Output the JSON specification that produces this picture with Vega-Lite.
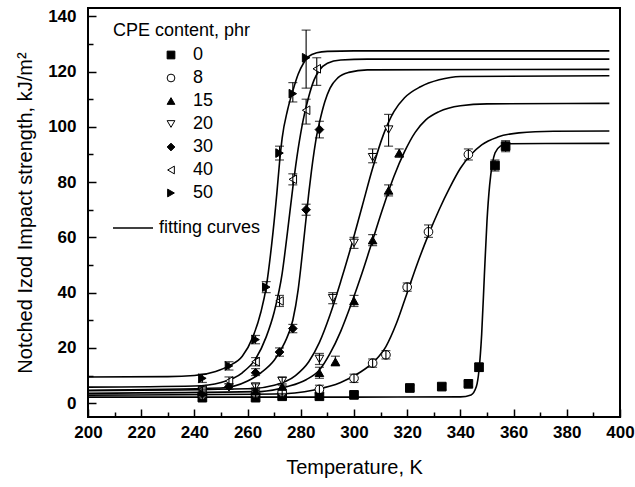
{
  "$schema": "https://vega.github.io/schema/vega-lite/v6.json",
  "width": 532,
  "height": 409,
  "autosize": "none",
  "padding": {"left": 88, "top": 8, "right": 15, "bottom": 70},
  "background": "white",
  "config": {
    "view": {"stroke": "black", "strokeWidth": 2},
    "axis": {
      "domain": false,
      "grid": false,
      "labelFont": "Liberation Sans",
      "labelFontWeight": "bold",
      "labelFontSize": 17,
      "labelColor": "black",
      "tickColor": "black",
      "tickWidth": 1.5,
      "titleFont": "Liberation Sans",
      "titleFontWeight": "normal",
      "titleFontSize": 20,
      "titleColor": "black"
    },
    "legend": {
      "labelFont": "Liberation Sans",
      "titleFont": "Liberation Sans",
      "labelColor": "black",
      "titleColor": "black"
    }
  },
  "datasets": {
    "points": [
      {"cpe": "0", "T": 243, "v": 2, "lo": 1, "hi": 3},
      {"cpe": "0", "T": 263, "v": 2, "lo": 1, "hi": 3},
      {"cpe": "0", "T": 273, "v": 2.5, "lo": 1.5, "hi": 3.5},
      {"cpe": "0", "T": 287, "v": 2.5, "lo": 1.5, "hi": 3.5},
      {"cpe": "0", "T": 300, "v": 3, "lo": 2, "hi": 4},
      {"cpe": "0", "T": 321, "v": 5.5, "lo": 4.5, "hi": 6.5},
      {"cpe": "0", "T": 333, "v": 6, "lo": 5, "hi": 7},
      {"cpe": "0", "T": 343, "v": 7, "lo": 6, "hi": 8},
      {"cpe": "0", "T": 347, "v": 13, "lo": 11.5, "hi": 14.5},
      {"cpe": "0", "T": 353, "v": 86, "lo": 84, "hi": 88},
      {"cpe": "0", "T": 357, "v": 93, "lo": 91, "hi": 95},
      {"cpe": "8", "T": 243, "v": 3, "lo": 2, "hi": 4},
      {"cpe": "8", "T": 263, "v": 3.5, "lo": 2.5, "hi": 4.5},
      {"cpe": "8", "T": 273, "v": 4, "lo": 3, "hi": 5},
      {"cpe": "8", "T": 287, "v": 5, "lo": 3.5, "hi": 6.5},
      {"cpe": "8", "T": 300, "v": 9, "lo": 7.5, "hi": 10.5},
      {"cpe": "8", "T": 307, "v": 14.5, "lo": 13, "hi": 16},
      {"cpe": "8", "T": 312, "v": 17.5, "lo": 16, "hi": 19},
      {"cpe": "8", "T": 320, "v": 42, "lo": 40.5, "hi": 43.5},
      {"cpe": "8", "T": 328, "v": 62, "lo": 60, "hi": 64.5},
      {"cpe": "8", "T": 343, "v": 90, "lo": 88, "hi": 92},
      {"cpe": "15", "T": 243, "v": 4, "lo": 3, "hi": 5},
      {"cpe": "15", "T": 263, "v": 4.5, "lo": 3.5, "hi": 5.5},
      {"cpe": "15", "T": 273, "v": 6, "lo": 5, "hi": 7},
      {"cpe": "15", "T": 287, "v": 11, "lo": 9, "hi": 13},
      {"cpe": "15", "T": 293, "v": 15, "lo": 13.5, "hi": 17},
      {"cpe": "15", "T": 300, "v": 37, "lo": 35, "hi": 39},
      {"cpe": "15", "T": 307, "v": 59, "lo": 57, "hi": 61},
      {"cpe": "15", "T": 313, "v": 77, "lo": 75, "hi": 79},
      {"cpe": "15", "T": 317, "v": 90.5, "lo": 89, "hi": 92},
      {"cpe": "20", "T": 243, "v": 4.5, "lo": 3.5, "hi": 5.5},
      {"cpe": "20", "T": 263, "v": 6, "lo": 5, "hi": 7},
      {"cpe": "20", "T": 273, "v": 8, "lo": 6.5, "hi": 9.5},
      {"cpe": "20", "T": 287, "v": 16, "lo": 14, "hi": 18},
      {"cpe": "20", "T": 292, "v": 38, "lo": 36, "hi": 40},
      {"cpe": "20", "T": 300, "v": 58, "lo": 56, "hi": 60},
      {"cpe": "20", "T": 307, "v": 89, "lo": 87, "hi": 92},
      {"cpe": "20", "T": 313, "v": 99, "lo": 93, "hi": 104.5},
      {"cpe": "30", "T": 243, "v": 3.5, "lo": 2.5, "hi": 4.5},
      {"cpe": "30", "T": 253, "v": 6, "lo": 5, "hi": 7},
      {"cpe": "30", "T": 263, "v": 11, "lo": 10, "hi": 12.5},
      {"cpe": "30", "T": 272, "v": 18.5, "lo": 17, "hi": 20},
      {"cpe": "30", "T": 277, "v": 27, "lo": 25.5, "hi": 28.5},
      {"cpe": "30", "T": 282, "v": 70, "lo": 68, "hi": 72},
      {"cpe": "30", "T": 287, "v": 99, "lo": 96, "hi": 102},
      {"cpe": "40", "T": 243, "v": 5, "lo": 4, "hi": 6},
      {"cpe": "40", "T": 253, "v": 8, "lo": 7, "hi": 9.5},
      {"cpe": "40", "T": 263, "v": 15, "lo": 13.5, "hi": 16.5},
      {"cpe": "40", "T": 272, "v": 37, "lo": 35, "hi": 39},
      {"cpe": "40", "T": 277, "v": 81, "lo": 79, "hi": 83},
      {"cpe": "40", "T": 282, "v": 106, "lo": 101, "hi": 110},
      {"cpe": "40", "T": 286, "v": 121, "lo": 115, "hi": 125},
      {"cpe": "50", "T": 243, "v": 9, "lo": 7.5, "hi": 10.5},
      {"cpe": "50", "T": 253, "v": 13.5, "lo": 12, "hi": 15},
      {"cpe": "50", "T": 263, "v": 23, "lo": 21.5, "hi": 24.5},
      {"cpe": "50", "T": 267, "v": 42, "lo": 40, "hi": 44},
      {"cpe": "50", "T": 272, "v": 90.5, "lo": 88, "hi": 93},
      {"cpe": "50", "T": 277, "v": 112, "lo": 109, "hi": 116},
      {"cpe": "50", "T": 282, "v": 125, "lo": 114, "hi": 135}
    ],
    "curves": [
      {"cpe": "0", "T": 200, "v": 2.2}, {"cpe": "0", "T": 300, "v": 2.2}, {"cpe": "0", "T": 340, "v": 2.3},
      {"cpe": "0", "T": 344, "v": 3}, {"cpe": "0", "T": 346, "v": 6}, {"cpe": "0", "T": 347, "v": 12},
      {"cpe": "0", "T": 348, "v": 25}, {"cpe": "0", "T": 349, "v": 46}, {"cpe": "0", "T": 350, "v": 66},
      {"cpe": "0", "T": 351, "v": 79}, {"cpe": "0", "T": 352, "v": 86.5}, {"cpe": "0", "T": 353, "v": 90.5},
      {"cpe": "0", "T": 355, "v": 93}, {"cpe": "0", "T": 358, "v": 93.9}, {"cpe": "0", "T": 396, "v": 94},

      {"cpe": "8", "T": 200, "v": 2.9}, {"cpe": "8", "T": 270, "v": 3.3}, {"cpe": "8", "T": 285, "v": 4.8},
      {"cpe": "8", "T": 295, "v": 7.5}, {"cpe": "8", "T": 302, "v": 11}, {"cpe": "8", "T": 308, "v": 15.5},
      {"cpe": "8", "T": 312, "v": 20.5}, {"cpe": "8", "T": 316, "v": 29}, {"cpe": "8", "T": 320, "v": 40},
      {"cpe": "8", "T": 324, "v": 51}, {"cpe": "8", "T": 328, "v": 61}, {"cpe": "8", "T": 332, "v": 70},
      {"cpe": "8", "T": 336, "v": 78}, {"cpe": "8", "T": 340, "v": 85}, {"cpe": "8", "T": 344, "v": 90},
      {"cpe": "8", "T": 348, "v": 93.5}, {"cpe": "8", "T": 354, "v": 96.3}, {"cpe": "8", "T": 362, "v": 97.8},
      {"cpe": "8", "T": 375, "v": 98.4}, {"cpe": "8", "T": 396, "v": 98.5},

      {"cpe": "15", "T": 200, "v": 3.6}, {"cpe": "15", "T": 265, "v": 4.2}, {"cpe": "15", "T": 275, "v": 6},
      {"cpe": "15", "T": 282, "v": 8.5}, {"cpe": "15", "T": 287, "v": 12}, {"cpe": "15", "T": 291, "v": 18},
      {"cpe": "15", "T": 295, "v": 26}, {"cpe": "15", "T": 299, "v": 36}, {"cpe": "15", "T": 303, "v": 47},
      {"cpe": "15", "T": 307, "v": 59}, {"cpe": "15", "T": 311, "v": 71}, {"cpe": "15", "T": 315, "v": 82},
      {"cpe": "15", "T": 319, "v": 91}, {"cpe": "15", "T": 323, "v": 98}, {"cpe": "15", "T": 327, "v": 102.5},
      {"cpe": "15", "T": 332, "v": 105.5}, {"cpe": "15", "T": 340, "v": 107.6}, {"cpe": "15", "T": 350, "v": 108.3},
      {"cpe": "15", "T": 396, "v": 108.5},

      {"cpe": "20", "T": 200, "v": 4.5}, {"cpe": "20", "T": 260, "v": 5.2}, {"cpe": "20", "T": 270, "v": 6.5},
      {"cpe": "20", "T": 278, "v": 10}, {"cpe": "20", "T": 283, "v": 15}, {"cpe": "20", "T": 287, "v": 22},
      {"cpe": "20", "T": 291, "v": 32}, {"cpe": "20", "T": 295, "v": 44}, {"cpe": "20", "T": 299, "v": 57},
      {"cpe": "20", "T": 303, "v": 71}, {"cpe": "20", "T": 307, "v": 85}, {"cpe": "20", "T": 311, "v": 97},
      {"cpe": "20", "T": 315, "v": 105.5}, {"cpe": "20", "T": 319, "v": 110.5}, {"cpe": "20", "T": 325, "v": 114.5},
      {"cpe": "20", "T": 332, "v": 117}, {"cpe": "20", "T": 340, "v": 118.2}, {"cpe": "20", "T": 396, "v": 118.5},

      {"cpe": "30", "T": 200, "v": 4.7}, {"cpe": "30", "T": 250, "v": 5.5}, {"cpe": "30", "T": 260, "v": 8},
      {"cpe": "30", "T": 265, "v": 11}, {"cpe": "30", "T": 270, "v": 15.5}, {"cpe": "30", "T": 274, "v": 22},
      {"cpe": "30", "T": 277, "v": 30}, {"cpe": "30", "T": 279, "v": 41}, {"cpe": "30", "T": 280, "v": 49},
      {"cpe": "30", "T": 281, "v": 58}, {"cpe": "30", "T": 282, "v": 67}, {"cpe": "30", "T": 283, "v": 76},
      {"cpe": "30", "T": 284, "v": 84}, {"cpe": "30", "T": 285, "v": 91}, {"cpe": "30", "T": 286, "v": 97},
      {"cpe": "30", "T": 287, "v": 101.5}, {"cpe": "30", "T": 289, "v": 109}, {"cpe": "30", "T": 291, "v": 114},
      {"cpe": "30", "T": 294, "v": 117.8}, {"cpe": "30", "T": 298, "v": 119.7}, {"cpe": "30", "T": 305, "v": 120.6},
      {"cpe": "30", "T": 396, "v": 120.8},

      {"cpe": "40", "T": 200, "v": 5.8}, {"cpe": "40", "T": 240, "v": 6.2}, {"cpe": "40", "T": 250, "v": 7.5},
      {"cpe": "40", "T": 258, "v": 11}, {"cpe": "40", "T": 263, "v": 16}, {"cpe": "40", "T": 267, "v": 24},
      {"cpe": "40", "T": 270, "v": 33}, {"cpe": "40", "T": 273, "v": 47}, {"cpe": "40", "T": 275, "v": 62},
      {"cpe": "40", "T": 277, "v": 78}, {"cpe": "40", "T": 279, "v": 92}, {"cpe": "40", "T": 281, "v": 103},
      {"cpe": "40", "T": 283, "v": 111}, {"cpe": "40", "T": 285, "v": 117}, {"cpe": "40", "T": 287, "v": 120.5},
      {"cpe": "40", "T": 290, "v": 123}, {"cpe": "40", "T": 295, "v": 124.2}, {"cpe": "40", "T": 305, "v": 124.5},
      {"cpe": "40", "T": 396, "v": 124.5},

      {"cpe": "50", "T": 200, "v": 9.5}, {"cpe": "50", "T": 230, "v": 9.6}, {"cpe": "50", "T": 240, "v": 10},
      {"cpe": "50", "T": 248, "v": 11.5}, {"cpe": "50", "T": 253, "v": 13.5}, {"cpe": "50", "T": 258, "v": 17},
      {"cpe": "50", "T": 262, "v": 24}, {"cpe": "50", "T": 265, "v": 33}, {"cpe": "50", "T": 267, "v": 42},
      {"cpe": "50", "T": 269, "v": 57}, {"cpe": "50", "T": 271, "v": 76}, {"cpe": "50", "T": 272, "v": 87},
      {"cpe": "50", "T": 273, "v": 96}, {"cpe": "50", "T": 275, "v": 106}, {"cpe": "50", "T": 277, "v": 113},
      {"cpe": "50", "T": 279, "v": 119}, {"cpe": "50", "T": 281, "v": 123}, {"cpe": "50", "T": 283, "v": 125.5},
      {"cpe": "50", "T": 286, "v": 126.8}, {"cpe": "50", "T": 290, "v": 127.3}, {"cpe": "50", "T": 300, "v": 127.5},
      {"cpe": "50", "T": 396, "v": 127.5}
    ]
  },
  "encoding": {
    "x": {
      "field": "T", "type": "quantitative",
      "scale": {"domain": [200, 400], "nice": false, "zero": false},
      "axis": {
        "title": "Temperature, K",
        "values": [200, 210, 220, 230, 240, 250, 260, 270, 280, 290, 300, 310, 320, 330, 340, 350, 360, 370, 380, 390, 400],
        "labelExpr": "datum.value % 20 === 0 ? datum.label : ''",
        "tickSize": {"condition": {"test": "datum.value % 20 === 0", "value": -8}, "value": -5},
        "labelPadding": 15,
        "labelFlush": false,
        "titlePadding": 17
      }
    },
    "y": {
      "field": "v", "type": "quantitative",
      "scale": {"domain": [-5, 143], "nice": false, "zero": false},
      "axis": {
        "title": "Notched Izod Impact strength, kJ/m²",
        "values": [0, 10, 20, 30, 40, 50, 60, 70, 80, 90, 100, 110, 120, 130, 140],
        "labelExpr": "datum.value % 20 === 0 ? datum.label : ''",
        "tickSize": {"condition": {"test": "datum.value % 20 === 0", "value": -8}, "value": -5},
        "labelPadding": 20,
        "labelFlush": false,
        "titlePadding": 12
      }
    }
  },
  "layer": [
    {
      "data": {"name": "curves"},
      "mark": {"type": "line", "interpolate": "monotone", "strokeWidth": 1.6, "clip": true},
      "encoding": {
        "detail": {"field": "cpe"},
        "color": {
          "datum": "fitting curves",
          "type": "nominal",
          "scale": {"range": ["black"]},
          "legend": {
            "orient": "none", "legendX": 24, "legendY": 199, "title": null,
            "symbolType": "stroke", "symbolSize": 1600, "symbolStrokeWidth": 1.6,
            "labelFontSize": 18, "labelOffset": 5, "padding": 0
          }
        }
      }
    },
    {
      "data": {"name": "points"},
      "mark": {"type": "point", "filled": false, "strokeWidth": 1, "size": 75, "opacity": 1},
      "encoding": {
        "shape": {
          "field": "cpe", "type": "nominal",
          "scale": {
            "domain": ["0", "8", "15", "20", "30", "40", "50"],
            "range": ["square", "circle", "triangle-up", "triangle-down", "diamond", "triangle-left", "triangle-right"]
          },
          "legend": {
            "orient": "none", "legendX": 25, "legendY": 14, "title": "CPE content, phr",
            "titleFontSize": 18, "titleFontWeight": "normal", "titlePadding": 6,
            "labelFontSize": 18, "symbolOffset": 49, "labelOffset": 13,
            "symbolSize": 60, "symbolStrokeWidth": 1,
            "rowPadding": 5, "padding": 0
          }
        },
        "fill": {
          "field": "cpe", "type": "nominal",
          "scale": {
            "domain": ["0", "8", "15", "20", "30", "40", "50"],
            "range": ["black", "white", "black", "white", "black", "white", "black"]
          },
          "legend": {
            "orient": "none", "legendX": 25, "legendY": 14, "title": "CPE content, phr",
            "titleFontSize": 18, "titleFontWeight": "normal", "titlePadding": 6,
            "labelFontSize": 18, "symbolOffset": 49, "labelOffset": 13,
            "symbolSize": 60, "symbolStrokeWidth": 1,
            "rowPadding": 5, "padding": 0
          }
        },
        "stroke": {
          "field": "cpe", "type": "nominal",
          "scale": {
            "domain": ["0", "8", "15", "20", "30", "40", "50"],
            "range": ["black", "black", "black", "black", "black", "black", "black"]
          },
          "legend": {
            "orient": "none", "legendX": 25, "legendY": 14, "title": "CPE content, phr",
            "titleFontSize": 18, "titleFontWeight": "normal", "titlePadding": 6,
            "labelFontSize": 18, "symbolOffset": 49, "labelOffset": 13,
            "symbolSize": 60, "symbolStrokeWidth": 1,
            "rowPadding": 5, "padding": 0
          }
        }
      }
    },
    {
      "data": {"name": "points"},
      "mark": {"type": "rule", "color": "black", "strokeWidth": 1.1},
      "encoding": {"y": {"field": "lo", "type": "quantitative"}, "y2": {"field": "hi"}}
    },
    {
      "data": {"name": "points"},
      "mark": {"type": "tick", "orient": "horizontal", "color": "black", "thickness": 1.2, "size": 9},
      "encoding": {"y": {"field": "lo", "type": "quantitative"}}
    },
    {
      "data": {"name": "points"},
      "mark": {"type": "tick", "orient": "horizontal", "color": "black", "thickness": 1.2, "size": 9},
      "encoding": {"y": {"field": "hi", "type": "quantitative"}}
    }
  ]
}
